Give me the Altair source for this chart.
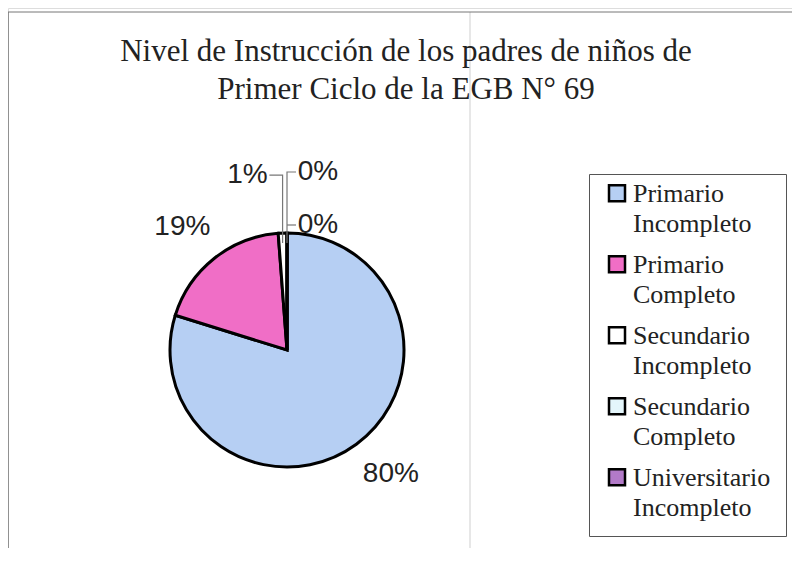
import math
import altair as alt
import pandas as pd

# ---------------- data ----------------
categorias = [
    "Primario Incompleto",
    "Primario Completo",
    "Secundario Incompleto",
    "Secundario Completo",
    "Universitario Incompleto",
]
porcentajes = [79.8, 19.0, 1.2, 0.0, 0.0]
etiquetas = ["80%", "19%", "1%", "0%", "0%"]
colores = ["#b6cff3", "#f06ec6", "#ffffff", "#e4f6fb", "#b27ac8"]
titulo = [
    "Nivel de Instrucción de los padres de niños de",
    "Primer Ciclo de la EGB N° 69",
]

# ---------------- layout (view coordinates) ----------------
W, H = 784, 540
CX, CY, R = 279, 342, 117
label_r = [160, 160, 175, 178, 125]
label_dx = [9, -5, -33, 31, 31]
label_dy = [-5, 2, 0, 0, 0]
TOTAL = sum(porcentajes)

df = pd.DataFrame(
    {
        "nivel": categorias,
        "pct": porcentajes,
        "orden": list(range(len(categorias))),
        "etiqueta": etiquetas,
    }
)

theta_scale = alt.Scale(domain=[0, TOTAL])

pie = (
    alt.Chart(df)
    .mark_arc(outerRadius=R, stroke="black", strokeWidth=3)
    .encode(
        theta=alt.Theta("pct:Q", stack=True, scale=theta_scale),
        order=alt.Order("orden:Q"),
        color=alt.Color(
            "nivel:N",
            sort=categorias,
            scale=alt.Scale(domain=categorias, range=colores),
            legend=alt.Legend(
                title=None,
                orient="none",
                legendX=581,
                legendY=166,
                symbolType="M-1,-2.1H1V-0.1H-1Z",
                symbolSize=256,
                symbolStrokeColor="black",
                symbolStrokeWidth=2.5,
                labelFont="Liberation Serif",
                labelFontSize=26,
                labelColor="#222222",
                labelBaseline="alphabetic",
                labelExpr="split(datum.label, ' ')",
                labelLimit=400,
                labelOffset=3,
                rowPadding=14,
                padding=15,
                strokeColor="#555555",
                fillColor="white",
            ),
        ),
        x=alt.value(CX),
        y=alt.value(CY),
    )
)

# stacked mid-angle per slice, computed before filtering
base_lbl = (
    alt.Chart(df)
    .transform_window(cum="sum(pct)", sort=[alt.SortField("orden")], frame=[None, 0])
    .transform_calculate(mid="datum.cum - datum.pct / 2")
)

label_layers = []
for i in range(len(categorias)):
    label_layers.append(
        base_lbl.transform_filter(alt.datum.orden == i)
        .mark_text(
            font="Liberation Sans",
            fontSize=28,
            color="#222222",
            align="center",
            baseline="middle",
            dx=label_dx[i],
            dy=label_dy[i],
        )
        .encode(
            theta=alt.Theta("mid:Q", stack=False, scale=theta_scale),
            radius=alt.value(label_r[i]),
            text="etiqueta:N",
            x=alt.value(CX),
            y=alt.value(CY),
        )
    )

# leader lines for the small slices, derived from the label geometry
cum = 0.0
mids = []
for p in porcentajes:
    mids.append(cum + p / 2)
    cum += p
pts = []
for i in (2, 3, 4):
    ang = mids[i] / TOTAL * 2 * math.pi
    lx = CX + label_r[i] * math.sin(ang) + label_dx[i]
    ly = CY - label_r[i] * math.cos(ang) + label_dy[i]
    ex = CX + R * math.sin(ang)
    ey = CY - R * math.cos(ang)
    side = 1 if label_dx[i] < 0 else -1
    start_x = lx + side * 22
    seg = [(start_x, ly), (ex, ly)]
    if i != 4:
        seg.append((ex, ey + 10))
    for k, (px, py) in enumerate(seg):
        pts.append({"g": i, "k": k, "px": px, "py": py})

leaders = (
    alt.Chart(pd.DataFrame(pts))
    .mark_line(color="#777777", strokeWidth=1.2)
    .encode(
        x=alt.X("px:Q", scale=None, axis=None),
        y=alt.Y("py:Q", scale=None, axis=None),
        detail="g:N",
        order="k:Q",
    )
)

one = alt.Data(values=[{}])
title_mark = (
    alt.Chart(one)
    .mark_text(
        font="Liberation Serif",
        fontSize=31,
        color="#222222",
        align="center",
        baseline="alphabetic",
        lineHeight=38,
    )
    .encode(x=alt.value(398), y=alt.value(53), text=alt.value(titulo))
)

frame_top = alt.Chart(one).mark_rule(color="#777777", strokeWidth=1).encode(
    x=alt.value(0), x2=alt.value(800), y=alt.value(4)
)
frame_left = alt.Chart(one).mark_rule(color="#777777", strokeWidth=1.5).encode(
    x=alt.value(0), y=alt.value(4), y2=alt.value(600)
)
fold = alt.Chart(one).mark_rule(color="#cfcfcf", strokeWidth=1).encode(
    x=alt.value(462), y=alt.value(4), y2=alt.value(600)
)

chart = (
    alt.layer(fold, frame_top, frame_left, pie, leaders, title_mark, *label_layers)
    .properties(
        width=W,
        height=H,
        autosize=alt.AutoSizeParams(type="none"),
        padding=0,
    )
    .configure_view(stroke=None)
    .configure(background="white", style={"guide-label": {"lineHeight": 30}})
)

chart.save("out.html", embed_options={"renderer": "svg", "actions": False})
